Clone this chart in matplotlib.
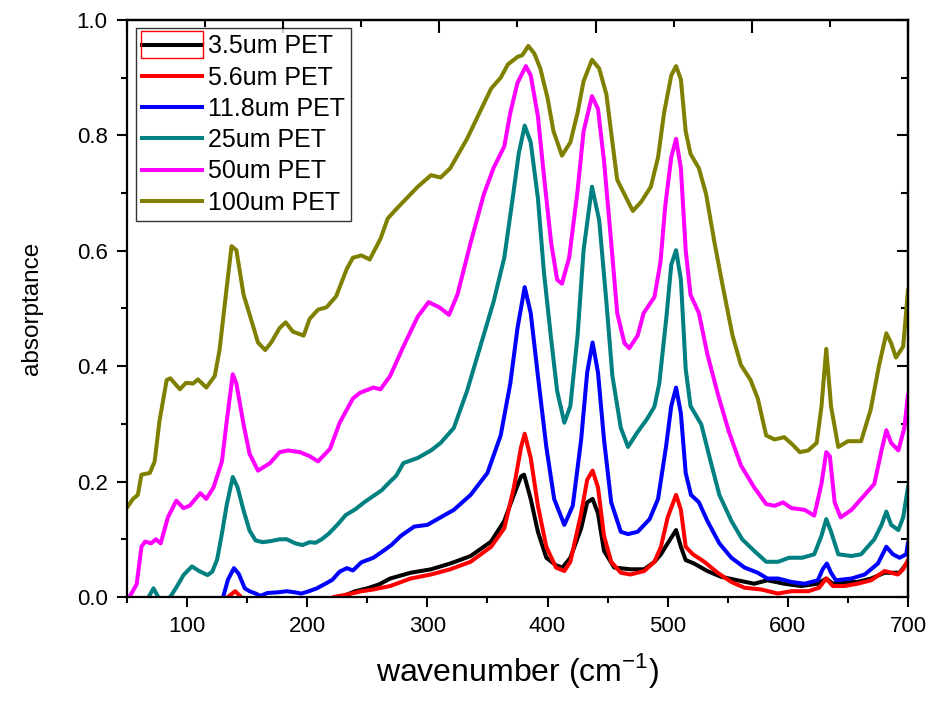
import matplotlib
matplotlib.use('Agg')
import matplotlib.pyplot as plt
from matplotlib.ticker import MultipleLocator, NullFormatter, FormatStrFormatter
from matplotlib.patches import Rectangle

plt.rcParams['font.family'] = ['Liberation Sans', 'DejaVu Sans']

# absorptance spectra of PET films, one series per thickness
x_3p5 = [222, 228, 240, 250, 260, 269, 286, 303, 319, 336, 353, 364, 372, 378, 380.5, 386, 392, 399,
         407, 412.5, 419, 428, 433, 437.5, 442, 447, 455.5, 469, 480.5, 489, 494.4, 500, 507, 511,
         515, 522, 533, 544.4, 558, 572, 583, 597, 611, 625, 632, 637.5, 647, 658, 669.4, 680.5,
         686, 693, 700]
y_3p5 = [-0.01, 0.0, 0.01, 0.015, 0.022, 0.032, 0.042, 0.048, 0.058, 0.071, 0.096, 0.132, 0.177,
         0.209, 0.212, 0.17, 0.113, 0.068, 0.055, 0.051, 0.068, 0.119, 0.164, 0.17, 0.145, 0.08,
         0.051, 0.048, 0.048, 0.061, 0.074, 0.093, 0.116, 0.087, 0.064, 0.058, 0.045, 0.035, 0.029,
         0.023, 0.029, 0.023, 0.019, 0.023, 0.032, 0.023, 0.026, 0.026, 0.032, 0.042, 0.042, 0.042,
         0.061]

x_5p6 = [128, 134, 140, 145, 150, 215, 222, 235, 245, 255, 262, 269, 286, 303, 319, 336, 353, 364,
         372, 378, 381, 386, 392, 399, 407, 414, 419, 428, 433, 437.5, 442, 447, 453, 461, 469,
         480.5, 489, 494.4, 500, 507, 511, 515, 521, 530.5, 541.6, 553, 564, 578, 591.6, 603, 617,
         626, 632, 637.5, 647, 658, 669.4, 680.5, 686, 691.6, 696, 700]
y_5p6 = [-0.02, 0.0, 0.01, 0.0, -0.02, -0.02, 0.0, 0.005, 0.01, 0.013, 0.016, 0.019, 0.032, 0.039,
         0.048, 0.061, 0.087, 0.119, 0.19, 0.26, 0.283, 0.241, 0.158, 0.087, 0.051, 0.045, 0.061,
         0.145, 0.203, 0.219, 0.19, 0.106, 0.061, 0.042, 0.039, 0.045, 0.061, 0.087, 0.138, 0.177,
         0.151, 0.087, 0.074, 0.061, 0.042, 0.026, 0.016, 0.013, 0.006, 0.010, 0.010, 0.016, 0.032,
         0.019, 0.019, 0.023, 0.029, 0.045, 0.042, 0.039, 0.048, 0.064]

x_11p8 = [126, 130, 134, 139, 143, 148, 152, 157, 161, 167, 175, 183, 190, 195, 200, 208, 216, 221,
          227, 233, 238, 245, 255, 262, 270, 278, 289, 300, 311, 322, 336, 350, 361, 369, 375, 381,
          386, 392, 399, 405.5, 414, 421, 428, 433, 437.5, 442, 447, 453, 461, 467, 475, 485, 492,
          498.6, 503, 507, 511, 515, 519.4, 526, 533, 543, 553, 564, 575, 583, 592, 603, 614, 625,
          629, 632.5, 636, 640, 653, 664, 675, 682, 687.5, 693, 698.6, 700]
y_11p8 = [-0.02, 0.0, 0.03, 0.05, 0.04, 0.015, 0.01, 0.006, 0.002, 0.007, 0.008, 0.01, 0.008, 0.006,
          0.009, 0.015, 0.024, 0.03, 0.044, 0.05, 0.046, 0.06, 0.068, 0.078, 0.09, 0.106, 0.122,
          0.125, 0.138, 0.151, 0.177, 0.215, 0.28, 0.37, 0.466, 0.537, 0.492, 0.383, 0.26, 0.17,
          0.125, 0.158, 0.273, 0.389, 0.441, 0.389, 0.273, 0.164, 0.113, 0.109, 0.113, 0.135, 0.17,
          0.26, 0.331, 0.363, 0.318, 0.215, 0.177, 0.164, 0.132, 0.093, 0.068, 0.051, 0.042, 0.032,
          0.032, 0.026, 0.023, 0.029, 0.048, 0.058, 0.042, 0.029, 0.032, 0.039, 0.058, 0.087, 0.074,
          0.068, 0.074, 0.093]

x_25 = [62, 68, 72, 76, 80, 86, 92, 97, 104, 110, 117, 121, 125, 129, 133, 138, 142, 147, 152, 157,
        163, 170, 177, 183, 190, 196, 202, 207, 212, 218, 225, 232, 240, 248, 255, 262, 268, 274,
        280, 292, 303, 311, 322, 333, 344, 355, 364, 371, 376, 381, 386, 392, 397, 403, 408, 414,
        419, 425, 430, 437, 443, 449, 454, 461, 467, 474, 483, 489, 493, 499, 503, 507, 511, 515,
        519, 528, 535, 543, 553, 562, 572, 582, 592, 601, 612, 622, 628, 632, 636, 642, 653, 661,
        672, 678, 682, 686, 692, 696, 700]
y_25 = [-0.03, 0.0, 0.015, 0.0, -0.005, 0.0, 0.02, 0.038, 0.053, 0.045, 0.038, 0.044, 0.065, 0.11,
        0.16, 0.208, 0.19, 0.15, 0.115, 0.098, 0.095, 0.097, 0.10, 0.10, 0.093, 0.09, 0.095, 0.094,
        0.10, 0.11, 0.125, 0.142, 0.152, 0.165, 0.175, 0.185, 0.198, 0.21, 0.232, 0.241, 0.254,
        0.267, 0.293, 0.357, 0.434, 0.511, 0.588, 0.691, 0.768, 0.817, 0.788, 0.691, 0.563, 0.447,
        0.357, 0.302, 0.331, 0.453, 0.601, 0.711, 0.653, 0.511, 0.383, 0.293, 0.26, 0.283, 0.309,
        0.33, 0.37, 0.486, 0.576, 0.601, 0.55, 0.395, 0.331, 0.299, 0.241, 0.177, 0.132, 0.10, 0.08,
        0.061, 0.061, 0.068, 0.068, 0.074, 0.106, 0.135, 0.113, 0.074, 0.071, 0.074, 0.10, 0.125,
        0.148, 0.125, 0.116, 0.138, 0.19]

x_50 = [50, 52, 58, 62, 65, 70, 74, 78, 84, 91, 97, 102, 111, 116, 122, 129, 133, 138, 141, 147, 152,
        159, 169, 177, 184, 194, 202, 209, 219, 227, 238, 244, 255, 261, 269, 280, 292, 301, 310, 318,
        325, 336, 347, 355, 364, 369, 375, 382, 386, 392, 397, 403, 408, 412, 418, 425, 430, 437, 442,
        447, 453, 458, 464, 468, 475, 480, 489, 494, 498, 503, 507, 511, 515, 519, 526, 533, 542, 551,
        561, 572, 582, 589, 596, 603, 614, 622, 628, 632, 635, 639, 644, 653, 664, 672, 678, 682, 686,
        692, 697, 700]
y_50 = [0.0, 0.0, 0.022, 0.087, 0.096, 0.093, 0.10, 0.093, 0.138, 0.167, 0.154, 0.158, 0.18, 0.17,
        0.19, 0.235, 0.305, 0.386, 0.37, 0.299, 0.248, 0.219, 0.232, 0.251, 0.254, 0.251, 0.244, 0.235,
        0.257, 0.302, 0.344, 0.354, 0.363, 0.36, 0.383, 0.434, 0.486, 0.511, 0.502, 0.489, 0.524, 0.614,
        0.698, 0.743, 0.781, 0.839, 0.891, 0.92, 0.904, 0.833, 0.73, 0.614, 0.55, 0.543, 0.588, 0.704,
        0.807, 0.868, 0.846, 0.756, 0.614, 0.492, 0.44, 0.431, 0.453, 0.492, 0.52, 0.58, 0.678, 0.762,
        0.794, 0.743, 0.601, 0.524, 0.492, 0.421, 0.35, 0.286, 0.228, 0.19, 0.161, 0.158, 0.164, 0.154,
        0.151, 0.141, 0.196, 0.251, 0.244, 0.164, 0.138, 0.151, 0.177, 0.196, 0.254, 0.289, 0.267,
        0.254, 0.293, 0.35]

x_100 = [50, 55, 59, 62, 69, 73, 77, 83, 86, 94, 99, 105, 109, 116, 123, 127, 133, 137, 141, 147, 154,
         159, 165, 170, 177, 182, 188, 197, 202, 209, 216, 224, 233, 238, 245, 252, 261, 267, 274, 280,
         292, 303, 311, 319, 333, 344, 353, 361, 367, 375, 379, 384, 389, 394, 400, 405, 412, 419, 425,
         430, 437, 443, 449, 454, 458, 464, 471, 478, 486, 492, 497, 503, 507, 511, 515, 519, 526, 532,
         539, 546, 554, 561, 569, 575, 582, 589, 597, 604, 610, 617, 624, 628, 632, 636, 642, 650,
         661, 669, 676, 682, 686, 690, 696, 700]
y_100 = [0.155, 0.17, 0.177, 0.212, 0.215, 0.235, 0.305, 0.376, 0.379, 0.36, 0.371, 0.37, 0.377, 0.363,
         0.383, 0.428, 0.537, 0.608, 0.601, 0.524, 0.476, 0.441, 0.428, 0.441, 0.466, 0.476, 0.46,
         0.453, 0.482, 0.498, 0.502, 0.521, 0.569, 0.588, 0.592, 0.585, 0.621, 0.656, 0.672, 0.685,
         0.711, 0.731, 0.727, 0.743, 0.794, 0.842, 0.881, 0.90, 0.923, 0.936, 0.939, 0.955, 0.942,
         0.916, 0.865, 0.807, 0.765, 0.788, 0.839, 0.894, 0.931, 0.916, 0.871, 0.788, 0.723, 0.698,
         0.669, 0.685, 0.711, 0.762, 0.839, 0.904, 0.92, 0.897, 0.807, 0.768, 0.743, 0.698, 0.614,
         0.537, 0.453, 0.402, 0.376, 0.344, 0.28, 0.273, 0.277, 0.264, 0.251, 0.254, 0.267, 0.33,
         0.43, 0.33, 0.26, 0.27, 0.27, 0.325, 0.402, 0.457, 0.44, 0.415, 0.434, 0.531]

series = [
    (x_3p5, y_3p5, '3.5um PET', 'black'),
    (x_5p6, y_5p6, '5.6um PET', '#ff0000'),
    (x_11p8, y_11p8, '11.8um PET', '#0000ff'),
    (x_25, y_25, '25um PET', '#008080'),
    (x_50, y_50, '50um PET', '#ff00ff'),
    (x_100, y_100, '100um PET', '#808000'),
]

fig = plt.figure(figsize=(9.32, 7.06), dpi=100)
ax = fig.add_axes([0.1363, 0.1544, 0.8379, 0.8173])

for xs, ys, name, col in series:
    ax.plot(xs, ys, color=col, lw=2.9, label=name)

ax.set_xlim(50, 700)
ax.set_ylim(0, 1.0)
ax.xaxis.set_major_locator(MultipleLocator(100))
ax.xaxis.set_minor_locator(MultipleLocator(50))
ax.yaxis.set_major_locator(MultipleLocator(0.2))
ax.yaxis.set_minor_locator(MultipleLocator(0.1))
ax.yaxis.set_major_formatter(FormatStrFormatter('%.1f'))
ax.tick_params(which='major', direction='out', length=7, width=1.5, labelsize=16, pad=7)
ax.tick_params(which='minor', direction='out', length=4, width=1.5)
for sp in ax.spines.values():
    sp.set_linewidth(1.6)

# top axis: ten divisions, no labels
top = ax.secondary_xaxis('top', functions=(lambda v: (v - 50) / 650.0, lambda f: 50 + 650.0 * f))
top.xaxis.set_major_locator(MultipleLocator(0.2))
top.xaxis.set_minor_locator(MultipleLocator(0.1))
top.xaxis.set_major_formatter(NullFormatter())
top.tick_params(which='major', direction='in', length=9, width=1.5)
top.tick_params(which='minor', direction='in', length=5, width=1.5)
top.spines['top'].set_linewidth(1.6)

right = ax.secondary_yaxis('right')
right.yaxis.set_major_locator(MultipleLocator(0.2))
right.yaxis.set_minor_locator(MultipleLocator(0.1))
right.yaxis.set_major_formatter(NullFormatter())
right.tick_params(which='major', direction='in', length=8, width=1.5)
right.tick_params(which='minor', direction='in', length=5, width=1.5)
right.spines['right'].set_linewidth(1.6)

ax.set_xlabel('wavenumber (cm$^{\\mathregular{-1}}$)', fontsize=23, labelpad=10)
ax.set_ylabel('absorptance', fontsize=17.5, labelpad=24)

leg = ax.legend(loc='upper left', bbox_to_anchor=(0.0115, 0.986), borderaxespad=0,
                fontsize=18, frameon=True, fancybox=False, edgecolor='black',
                handlelength=2.4, handletextpad=0.22, labelspacing=0.29, borderpad=0.25)
leg.get_frame().set_linewidth(1.0)

# red selection box around the first legend handle
fig.canvas.draw()
bb = leg.legend_handles[0].get_window_extent().transformed(fig.transFigure.inverted())
pad_w, pad_h = 0.001, 0.0195
fig.add_artist(Rectangle((bb.x0 - pad_w, bb.y0 - pad_h), bb.width + 2 * pad_w, 2 * pad_h,
                         transform=fig.transFigure, fill=False, edgecolor='red', lw=1.0))

fig.savefig('out.png', dpi=100)
